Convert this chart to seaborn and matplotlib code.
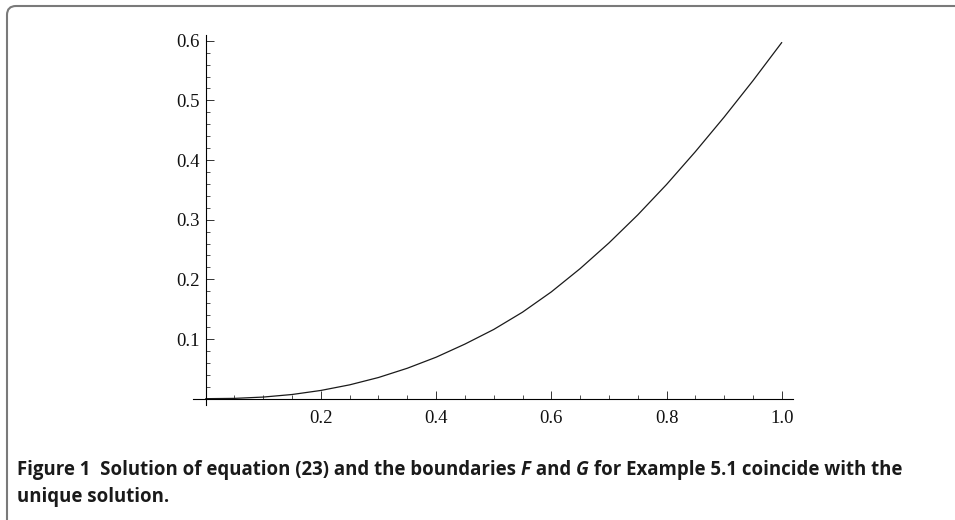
import matplotlib
matplotlib.use("Agg")
import matplotlib.pyplot as plt
from matplotlib.patches import FancyBboxPatch
from matplotlib.ticker import MultipleLocator, FixedLocator
import seaborn as sns
import pandas as pd

# ---- data ----
x_vals = [0.0, 0.05, 0.10, 0.15, 0.20, 0.25, 0.30, 0.35, 0.40, 0.45, 0.50,
          0.55, 0.60, 0.65, 0.70, 0.75, 0.80, 0.85, 0.90, 0.95, 1.00]
y_vals = [0.0, 0.0005, 0.0027, 0.007, 0.0138, 0.0232, 0.0355, 0.051, 0.0695, 0.0915, 0.116,
          0.145, 0.179, 0.218, 0.261, 0.308, 0.359, 0.414, 0.472, 0.533, 0.597]
x_ticks = [0.2, 0.4, 0.6, 0.8, 1.0]
x_tick_labels = ["0.2", "0.4", "0.6", "0.8", "1.0"]
y_ticks = [0.1, 0.2, 0.3, 0.4, 0.5, 0.6]
y_tick_labels = ["0.1", "0.2", "0.3", "0.4", "0.5", "0.6"]
caption_segments = [
    ("Figure 1  Solution of equation (23) and the boundaries ", "normal"),
    ("F", "italic"),
    (" and ", "normal"),
    ("G", "italic"),
    (" for Example 5.1 coincide with the", "normal"),
]
caption_line2 = "unique solution."

sns.set_style("white")
plt.rcParams["font.family"] = ["DejaVu Sans"]

W, H = 955, 520
fig = plt.figure(figsize=(W / 100, H / 100), dpi=100)

# axes box in pixels: left 193, right 792.7, top 35, bottom 405
ax = fig.add_axes([193 / W, (H - 405) / H, (792.7 - 193) / W, (405 - 35) / H])
ax.patch.set_alpha(0)

df = pd.DataFrame({"x": x_vals, "y": y_vals})
sns.lineplot(data=df, x="x", y="y", ax=ax, color="#1a1a1a", linewidth=0.9, estimator=None)

ax.set_xlim(-0.022, 1.019)
ax.set_ylim(-0.0106, 0.6096)

for s in ["top", "right"]:
    ax.spines[s].set_visible(False)
ax.spines["left"].set_position(("data", 0))
ax.spines["bottom"].set_position(("data", 0))
for s in ["left", "bottom"]:
    ax.spines[s].set_color("black")
    ax.spines[s].set_linewidth(0.8)

ax.xaxis.set_major_locator(FixedLocator(x_ticks))
ax.set_xticklabels(x_tick_labels)
ax.xaxis.set_minor_locator(MultipleLocator(0.05))
ax.yaxis.set_major_locator(FixedLocator(y_ticks))
ax.set_yticklabels(y_tick_labels)
ax.yaxis.set_minor_locator(MultipleLocator(0.02))

ax.tick_params(axis="both", which="both", bottom=True, left=True, top=False, right=False)
ax.tick_params(axis="both", which="major", direction="in", length=5.8, width=0.7,
               color="#333333", labelsize=13.5)
ax.tick_params(axis="both", which="minor", direction="in", length=3.2, width=0.6,
               color="#333333")
ax.tick_params(axis="x", which="major", pad=8)
ax.tick_params(axis="y", which="major", pad=4.0)
for lab in ax.get_xticklabels() + ax.get_yticklabels():
    lab.set_fontfamily("Liberation Serif")
    lab.set_color("#111111")
ax.set_xlabel("")
ax.set_ylabel("")

# rounded frame around the figure (clipped at right and bottom), display pixel coords
frame = FancyBboxPatch((7, -12), W + 30, (H - 6) + 12,
                       boxstyle="round,pad=0,rounding_size=9",
                       facecolor="none", edgecolor="#7a7a7a", linewidth=1.5)
frame.set_transform(matplotlib.transforms.IdentityTransform())
fig.patches.append(frame)

# caption
renderer = fig.canvas.get_renderer()
cap_fs = 13.4
x_px = 17
y1 = H - 470
for txt, style in caption_segments:
    t = fig.text(x_px / W, y1 / H, txt, fontsize=cap_fs, fontweight="bold",
                 fontstyle=style, family="Open Sans", va="center", ha="left",
                 color="#1a1a1a")
    bb = t.get_window_extent(renderer=renderer)
    x_px += bb.width
fig.text(17 / W, (H - 497) / H, caption_line2, fontsize=cap_fs, fontweight="bold",
         family="Open Sans", va="center", ha="left", color="#1a1a1a")

fig.savefig("out.png", dpi=100)
